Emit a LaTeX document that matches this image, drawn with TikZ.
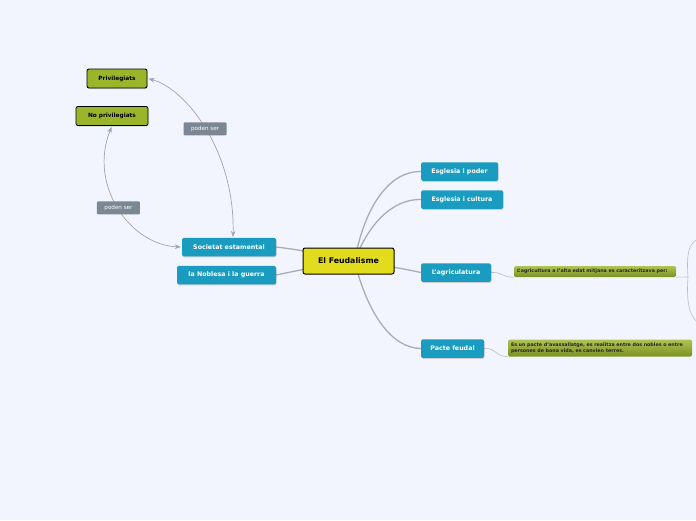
\documentclass[tikz,border=0pt]{standalone}
\usepackage{fontspec}
\setmainfont{DejaVu Sans}
\usetikzlibrary{arrows.meta,calc,shadows,backgrounds}

\definecolor{bgcol}{HTML}{F2F5FD}
\definecolor{topiccol}{HTML}{E3DB1D}
\definecolor{subcol}{HTML}{1A9CC0}
\definecolor{olivecol}{HTML}{9BB52A}
\definecolor{labelcol}{HTML}{7B8894}
\definecolor{branchcol}{HTML}{A9ACBC}
\definecolor{relcol}{HTML}{9EA3B8}

\begin{document}
\begin{tikzpicture}[x=1pt,y=-1pt,>=Stealth,
  topic/.style={draw=black,fill=topiccol,rounded corners=2pt,line width=1pt,
    font=\bfseries\fontsize{7.8}{9}\selectfont,minimum height=26pt,minimum width=91pt,inner sep=0pt},
  subtopic/.style={fill=subcol,text=white,rounded corners=1.5pt,
    font=\bfseries\fontsize{6.3}{8}\selectfont,minimum height=18.5pt,inner sep=0pt,
    drop shadow={shadow xshift=0.6pt,shadow yshift=-1pt,opacity=0.35}},
  greenbox/.style={draw=black,fill=olivecol,rounded corners=2pt,line width=0.9pt,
    font=\bfseries\fontsize{5.8}{7}\selectfont,minimum height=19pt,inner sep=0pt,
    drop shadow={shadow xshift=0.6pt,shadow yshift=-1pt,opacity=0.3}},
  notebox/.style={top color=olivecol!80!white,bottom color=olivecol!80!black,rounded corners=1.5pt,
    text=black!85,font=\bfseries\fontsize{4.8}{6.6}\selectfont,inner xsep=3pt,inner ysep=1.5pt,align=left},
  relabel/.style={fill=labelcol,text=white,rounded corners=1pt,
    font=\fontsize{5.6}{7}\selectfont,minimum width=43pt,minimum height=13pt,inner sep=0pt},
  branch/.style={draw=branchcol,line width=1.3pt},
  thinline/.style={draw=branchcol!80,line width=0.6pt},
  relation/.style={draw=relcol,line width=0.7pt,<->,shorten <=1pt,shorten >=1pt}]
\useasboundingbox (0,0) rectangle (696,520);

\node[topic] (feud) at (348.5,261) {El Feudalisme};

\node[subtopic,minimum width=94pt] (soc) at (229,247) {Societat estamental};
\node[subtopic,minimum width=99pt] (nob) at (226.5,275) {la Noblesa i la guerra};

\node[subtopic,minimum width=77pt] (poder) at (459.5,171.5) {Esglesia i poder};
\node[subtopic,minimum width=82pt] (cult) at (462,199.5) {Esglesia i cultura};
\node[subtopic,minimum width=70pt] (agri) at (456,272.5) {L'agriculatura};
\node[subtopic,minimum width=63pt] (pacte) at (452.5,348.5) {Pacte feudal};

\node[greenbox,minimum width=60pt] (priv) at (117,78.5) {Privilegiats};
\node[greenbox,minimum width=72pt] (nopriv) at (112,116) {No privilegiats};

\node[notebox,text width=156pt,minimum height=11pt] (agritext) at (595,271.5)
  {L'agricultura a l'alta edat mitjana es caracteritzava per:};
\node[notebox,text width=178pt,minimum height=17pt] (pactetext) at (600,348)
  {Es un pacte d'avassallatge, es realitza entre dos nobles o entre\\
   persones de bona vida, es canvien terres.};

% relations
\draw[relation] (priv.east) .. controls (185,88) and (235,150) .. (233,238)
  node[relabel,pos=0.5] (rel1) {poden ser};
\draw[relation] (soc.west) .. controls (130,245) and (88,185) .. (nopriv.south)
  node[relabel,pos=0.5] (rel2) {poden ser};

\begin{pgfonlayer}{background}
\fill[bgcol] (0,0) rectangle (696,520);
% branches
\draw[branch] ($(feud.center)+(6,0)$) .. controls (365,205) and (390,171) .. (poder.west);
\draw[branch] ($(feud.center)+(6,0)$) .. controls (370,220) and (395,199) .. (cult.west);
\draw[branch] (feud.center) .. controls (400,268) .. (agri.west);
\draw[branch] ($(feud.center)+(6,0)$) .. controls (368,315) and (392,348) .. (pacte.west);
\draw[branch] (feud.center) .. controls (300,250) .. (soc.east);
\draw[branch] (feud.center) .. controls (300,270) .. (nob.east);
% notes
\draw[thinline] (agri.east) .. controls (504,272) and (500,277) .. (agritext.south west);
\draw[thinline] (pacte.east) .. controls (497,348) and (494,356) .. (pactetext.south west);
\coordinate (fork) at (688,277);
\draw[thinline] (agritext.south east) -- (fork);
\draw[thinline] (fork) .. controls (686,250) and (690,242) .. (700,238);
\draw[thinline] (fork) .. controls (686,305) and (690,318) .. (700,324);
\end{pgfonlayer}
\end{tikzpicture}
\end{document}
